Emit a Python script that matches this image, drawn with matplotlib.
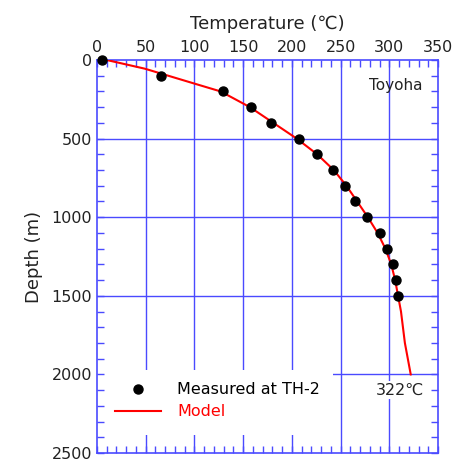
import numpy as np
import matplotlib
matplotlib.use("Agg")
import matplotlib.pyplot as plt
from matplotlib.patches import Rectangle
from matplotlib.ticker import MultipleLocator

# measured temperatures at TH-2
meas_depth = [0, 100, 200, 300, 400, 500, 600, 700, 800, 900, 1000,
              1100, 1200, 1300, 1400, 1500]
meas_temp = [5, 66, 129, 158, 179, 207, 226, 242, 255, 265, 277,
             290, 298, 304, 307, 309]

# model curve
model_depth = [0, 55, 150, 200, 300, 400, 500, 600, 700, 800, 900, 1000,
               1100, 1200, 1300, 1400, 1500, 1600, 1800, 2000]
model_temp = [10, 49, 100, 127, 157, 181, 205, 226, 243, 256, 267, 278,
              288, 296, 302, 306, 309, 312, 316, 322]

xticks = [0, 50, 100, 150, 200, 250, 300, 350]
yticks = [0, 500, 1000, 1500, 2000, 2500]

blue = '#4a4aff'

fig = plt.figure(figsize=(4.6, 4.66), dpi=100)
ax = fig.add_axes([0.2109, 0.0279, 0.7413, 0.8433])

ax.set_xlim(0, 350)
ax.set_ylim(2500, 0)
ax.set_xticks(xticks)
ax.set_yticks(yticks)
ax.xaxis.set_minor_locator(MultipleLocator(10))
ax.yaxis.set_minor_locator(MultipleLocator(100))
ax.xaxis.tick_top()
ax.xaxis.set_label_position('top')
ax.tick_params(which='both', direction='in', top=True, bottom=True,
               left=True, right=True, color=blue, labelcolor='#222222',
               labelsize=11.5)
ax.tick_params(which='major', length=5, width=1)
ax.tick_params(which='minor', length=5, width=1)
for s in ax.spines.values():
    s.set_color(blue)
    s.set_linewidth(1.2)

# grid drawn by hand so the legend box can sit over it but under the ticks
for x in xticks[1:-1]:
    ax.axvline(x, color=blue, lw=1, zorder=1)
for y in yticks[1:-1]:
    ax.axhline(y, color=blue, lw=1, zorder=1)

# white box behind legend hides grid
ax.add_patch(Rectangle((0, 1975), 242, 410, facecolor='white',
                       edgecolor='none', zorder=1.2))

ax.plot(model_temp, model_depth, '-', color='red', lw=1.5, label='Model',
        zorder=3)
ax.plot(meas_temp, meas_depth, 'o', color='black', ms=6.5,
        label='Measured at TH-2', zorder=4, clip_on=False)

h, l = ax.get_legend_handles_labels()
ax.legend(h[::-1], l[::-1], loc='upper left', bbox_to_anchor=(0.053, 0.18),
          frameon=False, borderpad=0, borderaxespad=0, fontsize=11.5,
          handlelength=2.9, handletextpad=1.0, labelspacing=0.45,
          labelcolor='linecolor')

ax.text(311, 2100, '322℃', fontsize=11.5, color='#222222', ha='center',
        va='center', bbox=dict(facecolor='white', edgecolor='none', pad=1),
        zorder=2)
ax.text(0.955, 0.935, 'Toyoha', transform=ax.transAxes, fontsize=11,
        color='#222222', ha='right', va='center')

ax.set_xlabel('Temperature (℃)', fontsize=13, color='#222222', labelpad=8)
ax.set_ylabel('Depth (m)', fontsize=13, color='#222222', labelpad=6)

fig.savefig('out.png', dpi=100)
